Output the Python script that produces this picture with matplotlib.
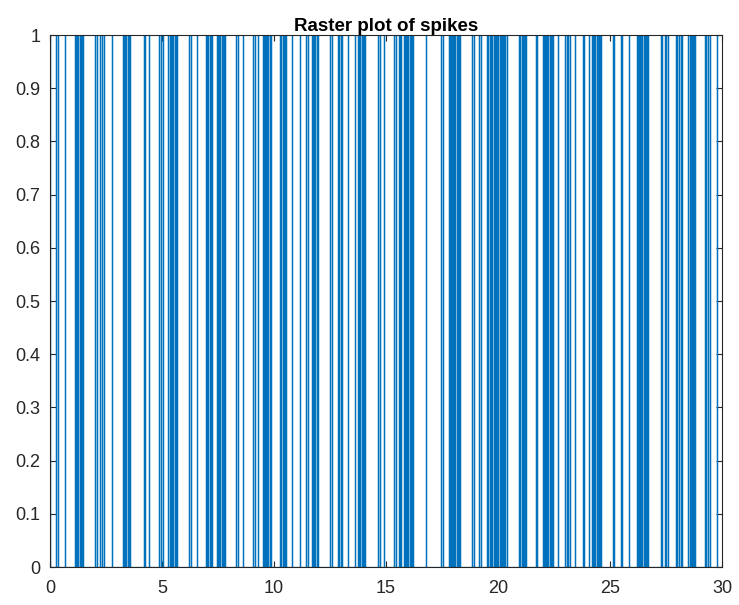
import numpy as np
import matplotlib
matplotlib.use("Agg")
import matplotlib.pyplot as plt

# spike times (s) over the 30 s recording
spike_times = [
    0.02, 0.25, 0.36, 0.65,
    1.12, 1.17, 1.22, 1.27, 1.32, 1.37, 1.42, 1.47,
    2.02, 2.08, 2.22, 2.30, 2.42, 2.77,
    3.26, 3.31, 3.36, 3.41, 3.46, 3.51, 3.57,
    4.20, 4.25, 4.42, 4.87, 4.95, 5.05, 5.25,
    5.36, 5.41, 5.46, 5.51, 5.57, 5.62, 5.67,
    6.22, 6.28, 6.56,
    6.96, 7.01, 7.07, 7.12, 7.18, 7.23,
    7.46, 7.51, 7.56, 7.61, 7.66, 7.71, 7.76, 7.81,
    8.32, 8.38, 8.62, 9.08, 9.14, 9.29,
    9.50, 9.55, 9.60, 9.65, 9.70, 9.75, 9.80, 9.87,
    10.27, 10.32, 10.38, 10.44, 10.49, 10.54,
    10.80, 11.16, 11.42, 11.50,
    11.70, 11.75, 11.80, 11.85, 11.90, 11.96,
    12.50, 12.57, 12.86, 12.92, 12.98, 13.04, 13.30, 13.60,
    13.75, 13.80, 13.86, 13.91, 13.96, 14.01, 14.06,
    14.65, 14.73, 14.92,
    15.37, 15.43, 15.58, 15.63, 15.68,
    15.80, 15.85, 15.90, 15.95, 16.00, 16.05, 16.10, 16.15, 16.20,
    16.79, 17.47, 17.53,
    17.80, 17.85, 17.90, 17.95, 18.00, 18.05, 18.10, 18.15, 18.20, 18.25, 18.30,
    18.85, 18.92, 19.15, 19.25,
    19.50, 19.56, 19.62, 19.68, 19.73,
    19.82, 19.87, 19.92, 19.97, 20.02, 20.07, 20.12, 20.17, 20.22, 20.27, 20.32, 20.38,
    20.94, 20.99, 21.05, 21.10, 21.15, 21.20, 21.25,
    21.70, 21.76,
    22.00, 22.05, 22.10, 22.15, 22.20, 22.25, 22.30, 22.35, 22.40, 22.45,
    22.68, 23.00, 23.06, 23.12, 23.20, 23.44, 23.78, 23.84, 24.04, 24.08,
    24.20, 24.25, 24.30, 24.35, 24.40, 24.45, 24.50, 24.55, 24.60,
    25.15, 25.20, 25.48, 25.52, 25.85,
    26.20, 26.25, 26.30, 26.35, 26.40, 26.45, 26.50, 26.55, 26.60, 26.65, 26.70,
    27.26, 27.30, 27.45, 27.52, 27.58,
    27.93, 28.00, 28.08, 28.15, 28.20,
    28.50, 28.55, 28.60, 28.65, 28.70, 28.75, 28.80,
    29.24, 29.30, 29.38, 29.46, 29.78,
]
t_end = 30

# binary spike train: baseline 0, jumps to 1 at each spike
spikes = np.asarray(spike_times)
x = np.concatenate([[0], np.repeat(spikes, 3), [t_end]])
y = np.concatenate([[0], np.tile([0, 1, 0], len(spikes)), [0]])

plt.rcParams['font.family'] = ['Liberation Sans', 'DejaVu Sans']
fig = plt.figure(figsize=(7.39, 6.05), dpi=100)
ax = fig.add_axes([0.0677, 0.0628, 0.9093, 0.8792])

ax.plot(x, y, color='#0072BD', lw=0.9)

ax.set_xlim(0, 30)
ax.set_ylim(0, 1)
ax.set_xticks(np.arange(0, 31, 5))
ax.set_yticks(np.round(np.arange(0, 1.01, 0.1), 1))
ax.set_yticklabels(['0'] + [f'{v:.1f}' for v in np.arange(0.1, 0.95, 0.1)] + ['1'])
ax.set_title('Raster plot of spikes', fontsize=13.5, fontweight='bold', pad=3)

for s in ax.spines.values():
    s.set_color('#262626')
    s.set_linewidth(0.8)
ax.tick_params(direction='in', length=4, width=0.8, colors='#262626',
               labelsize=13, top=True, right=True)
ax.tick_params(axis='x', pad=9)
ax.tick_params(axis='y', pad=7)

fig.savefig('out.png', dpi=100)
